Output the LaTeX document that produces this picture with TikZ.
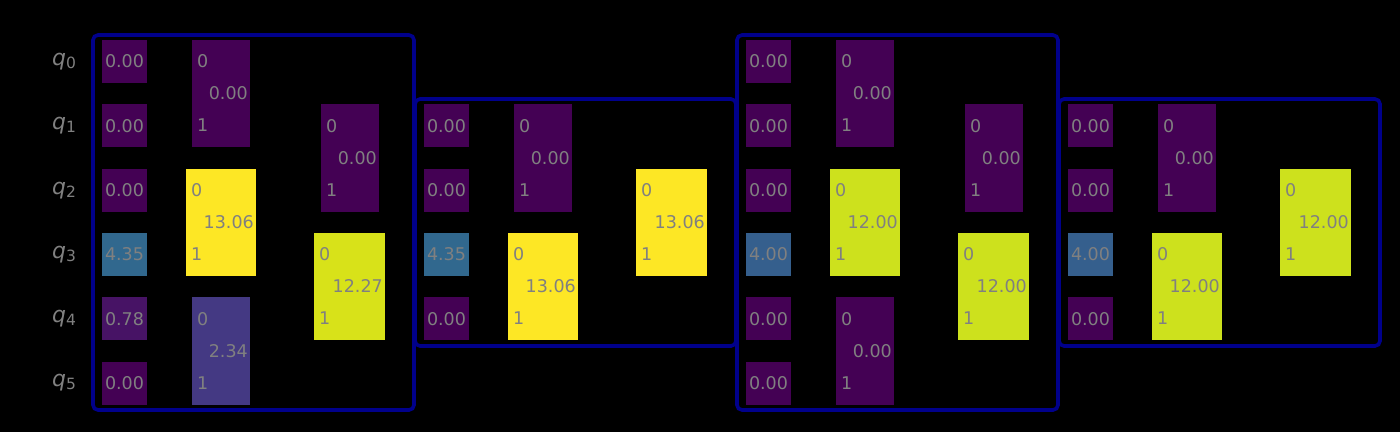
\documentclass[tikz,border=0pt]{standalone}
\usepackage{fontspec}
\setmainfont{DejaVu Sans}
\definecolor{vA}{HTML}{440154}
\definecolor{vB}{HTML}{31688E}
\definecolor{vC}{HTML}{355F8D}
\definecolor{vD}{HTML}{471365}
\definecolor{vE}{HTML}{443983}
\definecolor{vF}{HTML}{FDE725}
\definecolor{vG}{HTML}{D8E219}
\definecolor{vH}{HTML}{CDE11D}
\definecolor{txt}{HTML}{808080}
\definecolor{frm}{HTML}{00008B}
\tikzset{
  frame/.style={draw=frm, line width=3.6pt, rounded corners=5pt},
  val/.style={text=txt, font=\fontsize{17.5}{19}\selectfont, inner sep=0pt},
  qlab/.style={text=txt, font=\fontsize{22}{24}\selectfont, inner sep=0pt},
}
% single cell: x, row, color, value, name
\newcommand{\cellbox}[5]{%
  \fill[#3] (#1,{40+64.3*#2}) rectangle ++(45,43);
  \node[val] (#5) at ({#1+22.5},{61.5+64.3*#2}) {#4};
}
% gate: xleft, width, top row, color, value, name
\newcommand{\gatebox}[6]{%
  \fill[#4] (#1,{40+64.3*#3}) rectangle ++(#2,107.3);
  \node[val, anchor=west] (#6a) at ({#1+5},{61.5+64.3*#3}) {0};
  \node[val, anchor=east] (#6v) at ({#1+#2-2},{93.5+64.3*#3}) {#5};
  \node[val, anchor=west] (#6b) at ({#1+5},{125.5+64.3*#3}) {1};
}
\begin{document}
\begin{tikzpicture}[x=1pt,y=-1pt]
\fill[black] (0,0) rectangle (1400,432);
\useasboundingbox (0,0) rectangle (1400,432);
% labels
\foreach \i in {0,...,5} {
  \node[qlab] (q\i) at (64,{61.5+64.3*\i}) {\textit{q}\raisebox{-0.25ex}{\fontsize{15.5}{16}\selectfont\i}};
}
% frames
\draw[frame] (93,35) rectangle (414,410);
\draw[frame] (415,99) rectangle (736,346);
\draw[frame] (737,35) rectangle (1058,410);
\draw[frame] (1059,99) rectangle (1380,346);
% frame 1
\cellbox{102}{0}{vA}{0.00}{a0}
\cellbox{102}{1}{vA}{0.00}{a1}
\cellbox{102}{2}{vA}{0.00}{a2}
\cellbox{102}{3}{vB}{4.35}{a3}
\cellbox{102}{4}{vD}{0.78}{a4}
\cellbox{102}{5}{vA}{0.00}{a5}
\gatebox{192}{58}{0}{vA}{0.00}{g1}
\gatebox{186}{70}{2}{vF}{13.06}{g2}
\gatebox{192}{58}{4}{vE}{2.34}{g3}
\gatebox{321}{58}{1}{vA}{0.00}{g4}
\gatebox{314}{71}{3}{vG}{12.27}{g5}
% frame 2
\cellbox{424}{1}{vA}{0.00}{b1}
\cellbox{424}{2}{vA}{0.00}{b2}
\cellbox{424}{3}{vB}{4.35}{b3}
\cellbox{424}{4}{vA}{0.00}{b4}
\gatebox{514}{58}{1}{vA}{0.00}{h1}
\gatebox{508}{70}{3}{vF}{13.06}{h2}
\gatebox{636}{71}{2}{vF}{13.06}{h3}
% frame 3
\cellbox{746}{0}{vA}{0.00}{c0}
\cellbox{746}{1}{vA}{0.00}{c1}
\cellbox{746}{2}{vA}{0.00}{c2}
\cellbox{746}{3}{vC}{4.00}{c3}
\cellbox{746}{4}{vA}{0.00}{c4}
\cellbox{746}{5}{vA}{0.00}{c5}
\gatebox{836}{58}{0}{vA}{0.00}{k1}
\gatebox{830}{70}{2}{vH}{12.00}{k2}
\gatebox{836}{58}{4}{vA}{0.00}{k3}
\gatebox{965}{58}{1}{vA}{0.00}{k4}
\gatebox{958}{71}{3}{vH}{12.00}{k5}
% frame 4
\cellbox{1068}{1}{vA}{0.00}{d1}
\cellbox{1068}{2}{vA}{0.00}{d2}
\cellbox{1068}{3}{vC}{4.00}{d3}
\cellbox{1068}{4}{vA}{0.00}{d4}
\gatebox{1158}{58}{1}{vA}{0.00}{m1}
\gatebox{1152}{70}{3}{vH}{12.00}{m2}
\gatebox{1280}{71}{2}{vH}{12.00}{m3}
\end{tikzpicture}
\end{document}
